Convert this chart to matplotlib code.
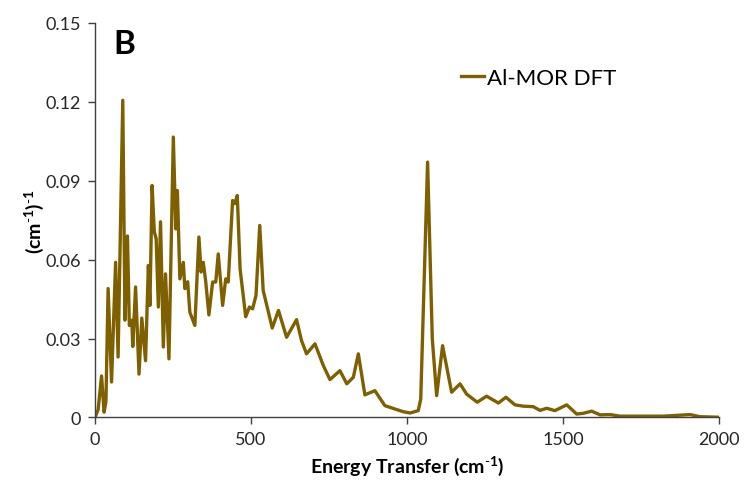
import matplotlib
matplotlib.use("Agg")
import matplotlib.pyplot as plt

# Al-MOR DFT spectrum, read as (energy transfer, intensity) pairs
energy = [0, 10, 21, 29, 35, 42, 53, 66, 74, 89, 96, 104, 110, 118, 121, 130, 141,
          150, 162, 171, 176, 183, 190, 196, 203, 210, 219, 226, 237, 251, 259, 264,
          272, 283, 288, 297, 304, 320, 333, 340, 347, 355, 365, 377, 387, 395, 409,
          419, 427, 441, 448, 456, 465, 483, 495, 505, 516, 528, 539, 556, 568, 588,
          614, 646, 662, 678, 705, 732, 753, 785, 807, 828, 844, 865, 897, 929, 967,
          988, 1010, 1036, 1044, 1066, 1081, 1095, 1114, 1143, 1170, 1191, 1225, 1255,
          1293, 1317, 1346, 1373, 1405, 1426, 1448, 1474, 1512, 1544, 1565, 1592, 1619,
          1651, 1683, 1821, 1907, 1939, 1997]
intensity = [0, 0.003, 0.0158, 0.002, 0.006, 0.049, 0.0135, 0.059, 0.023, 0.1206, 0.037,
             0.069, 0.035, 0.037, 0.027, 0.0496, 0.0165, 0.0378, 0.0216, 0.0578, 0.0426,
             0.0882, 0.0706, 0.068, 0.042, 0.0744, 0.0268, 0.0546, 0.0223, 0.1066, 0.0717,
             0.0863, 0.0527, 0.059, 0.049, 0.0516, 0.040, 0.035, 0.0686, 0.0553, 0.059,
             0.0515, 0.039, 0.0515, 0.0515, 0.0622, 0.0426, 0.0527, 0.0515, 0.0825, 0.0813,
             0.0844, 0.0565, 0.0383, 0.042, 0.0413, 0.0464, 0.073, 0.0483, 0.040, 0.034,
             0.0407, 0.0305, 0.0372, 0.0292, 0.0242, 0.028, 0.0197, 0.0144, 0.0178, 0.0128,
             0.0153, 0.0242, 0.0086, 0.0102, 0.0045, 0.003, 0.0022, 0.0017, 0.0026, 0.007,
             0.0971, 0.030, 0.0083, 0.0273, 0.0096, 0.0128, 0.0089, 0.0058, 0.0081, 0.0055,
             0.0077, 0.0048, 0.0043, 0.0041, 0.0027, 0.0035, 0.0026, 0.0048, 0.0013, 0.0016,
             0.0024, 0.0010, 0.0011, 0.0005, 0.0005, 0.0011, 0.0003, 0.0001]

x_ticks = [0, 500, 1000, 1500, 2000]
y_ticks = [0, 0.03, 0.06, 0.09, 0.12, 0.15]
y_tick_labels = ["0", "0.03", "0.06", "0.09", "0.12", "0.15"]

plt.rcParams['font.family'] = ['Lato', 'DejaVu Sans']
# superscripts in the axis labels use the same face as the rest of the text
plt.rcParams['mathtext.fontset'] = 'custom'
plt.rcParams['mathtext.rm'] = 'Lato'
plt.rcParams['mathtext.bf'] = 'Lato:bold'
plt.rcParams['axes.unicode_minus'] = False

line_color = '#7f6000'
axis_color = '#404040'

fig = plt.figure(figsize=(7.44, 4.89), dpi=100)
ax = fig.add_axes([0.1277, 0.1442, 0.8387, 0.8068])

ax.plot(energy, intensity, color=line_color, lw=2.4, solid_joinstyle='round',
        label='Al-MOR DFT')

ax.set_xlim(0, 2000)
ax.set_ylim(0, 0.15)
ax.set_xticks(x_ticks)
ax.set_yticks(y_ticks)
ax.set_yticklabels(y_tick_labels)
ax.tick_params(axis='both', direction='out', length=5, width=1, color=axis_color,
               labelsize=13, labelcolor='#262626', pad=5)

for side in ['top', 'right']:
    ax.spines[side].set_visible(False)
for side in ['left', 'bottom']:
    ax.spines[side].set_color(axis_color)
    ax.spines[side].set_linewidth(1)

ax.set_xlabel(r'Energy Transfer (cm$^{\mathbf{\text{-}1}}$)', fontsize=14,
              fontweight='bold', labelpad=4)
ax.set_ylabel(r'(cm$^{\mathbf{\text{-}1}}$)$^{\mathbf{\text{-}1}}$', fontsize=14,
              fontweight='bold', labelpad=0)

ax.text(0.03, 0.985, 'B', transform=ax.transAxes, fontsize=24, fontweight='bold',
        va='top', ha='left')

ax.legend(loc='center left', bbox_to_anchor=(0.555, 0.86), frameon=False, fontsize=16,
          handlelength=1.0, handletextpad=0.15)

fig.savefig('out.png', dpi=100)
